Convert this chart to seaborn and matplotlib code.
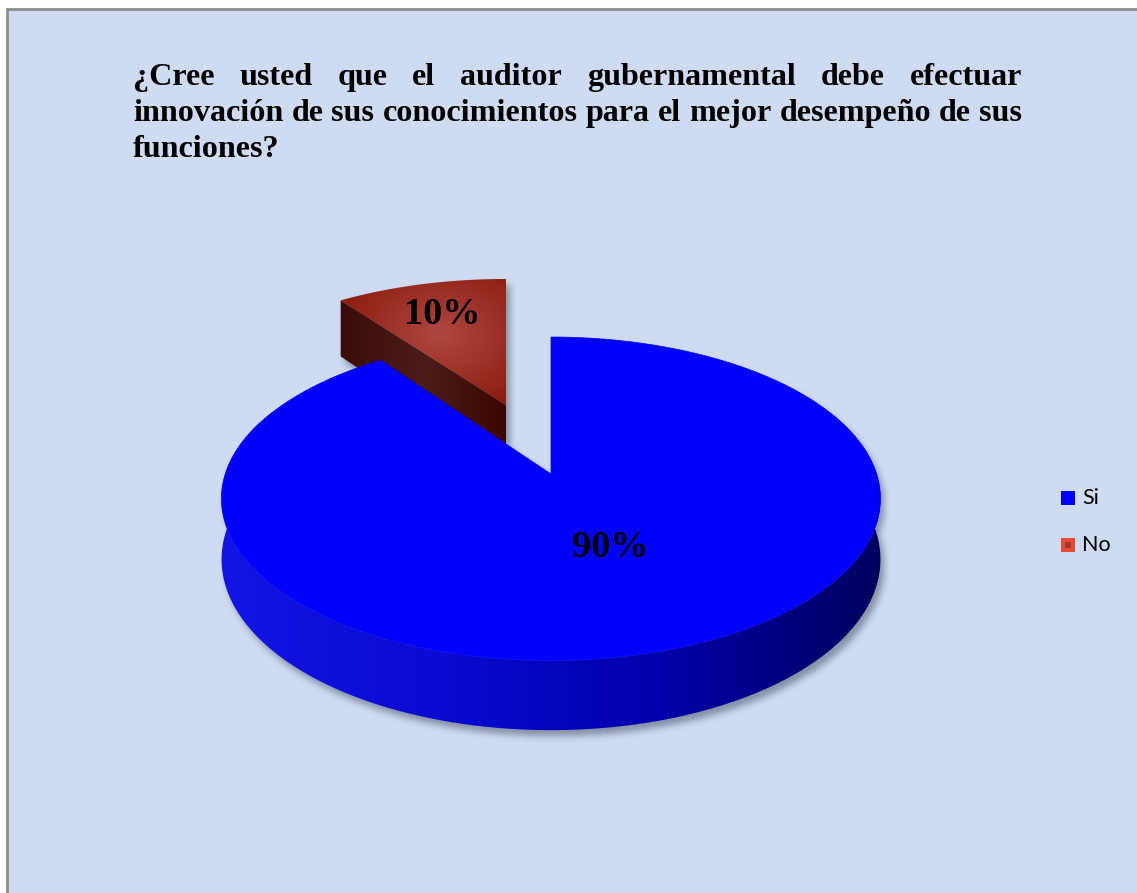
import numpy as np
import matplotlib
matplotlib.use("Agg")
import matplotlib.pyplot as plt
import seaborn as sns
from matplotlib.patches import Polygon, Rectangle
from matplotlib.path import Path

# ---- data -------------------------------------------------------------
categories = ["Si", "No"]
values = [90, 10]
pct_labels = ["90%", "10%"]
title_lines = [
    "¿Cree usted que el auditor gubernamental debe efectuar",
    "innovación de sus conocimientos para el mejor desempeño de sus",
    "funciones?",
]

# ---- style ------------------------------------------------------------
sns.set_theme(style="white")
plt.rcParams["font.family"] = ["Liberation Serif", "DejaVu Serif"]

W, H = 1137, 893
fig = plt.figure(figsize=(W / 100, H / 100), dpi=100)
fig.patch.set_facecolor("white")
ax = fig.add_axes([0, 0, 1, 1])
ax.set_xlim(0, W)
ax.set_ylim(H, 0)
ax.axis("off")

BG = "#CEDBF1"
ax.add_patch(Rectangle((6.5, 8.5), W + 20, H + 20, facecolor=BG,
                       edgecolor="#8C8C8C", lw=2, zorder=0))

# ---- 3D pie geometry (screen pixels) ---------------------------------
CX, CY = 551.0, 474.0
RX, RY = 325.6, 157.8
PERSP = 0.152
DEPTH = 59.4
EXPLODE_APEX = np.array([506.0, 405.0])
EXPLODE_SCALE = np.array([0.97, 0.92])
EXPLODE_DEPTH = 1.15


def project(u, v, bottom=False, depth=DEPTH):
    s = 1.0 + PERSP * v
    x = CX + RX * u / s
    y = CY - RY * v / s + (depth / s if bottom else 0.0)
    return np.column_stack([np.atleast_1d(x), np.atleast_1d(y)])


def arc(a0, a1, n=200, r=1.0, bottom=False):
    t = np.radians(np.linspace(a0, a1, n))
    return project(r * np.cos(t), r * np.sin(t), bottom)


def explode(pts):
    return EXPLODE_APEX + EXPLODE_SCALE * (pts - np.array([CX, CY]))


# slice angles, clockwise from 12 o'clock
fracs = np.array(values, dtype=float) / np.sum(values)
spans = []
a = 90.0
for f in fracs:
    spans.append((a - 360.0 * f, a))
    a -= 360.0 * f

(si0, si1), (no0, no1) = spans
apex_top = project(0.0, 0.0)

# "Si" slice faces
si_top = np.vstack([apex_top, arc(si0, si1, 400)])
side_a0, side_a1 = max(si0, -205.0), min(si1, 25.0)
si_side = np.vstack([arc(side_a0, side_a1, 300),
                     arc(side_a0, side_a1, 300, bottom=True)[::-1]])

# "No" slice faces (pulled out of the pie); its leading cut face is visible
no_top = explode(np.vstack([apex_top, arc(no0, no1, 80)]))
cut = np.radians(no1)
no_depth = DEPTH * EXPLODE_DEPTH
edge_top = project(np.cos(cut), np.sin(cut))
edge_bot = project(np.cos(cut), np.sin(cut), bottom=True, depth=no_depth)
apex_bot = project(0.0, 0.0, bottom=True, depth=no_depth)
no_side = explode(np.vstack([apex_top, edge_top, edge_bot, apex_bot]))

# ---- soft drop shadow ------------------------------------------------
xs = np.arange(W) + 0.5
ys = np.arange(H) + 0.5
GX, GY = np.meshgrid(xs, ys)
grid = np.column_stack([GX.ravel(), GY.ravel()])
mask = np.zeros(W * H, dtype=float)
shift = np.array([4.0, 6.0])
for poly in (si_top, si_side, no_top, no_side):
    mask = np.maximum(mask, Path(poly + shift).contains_points(grid).astype(float))
mask = mask.reshape(H, W)


def blur(img, sigma):
    r = int(3 * sigma)
    k = np.exp(-0.5 * (np.arange(-r, r + 1) / sigma) ** 2)
    k /= k.sum()
    p = np.pad(img, ((0, 0), (r, r)))
    out = np.zeros_like(img)
    for i, w in enumerate(k):
        out += w * p[:, i:i + img.shape[1]]
    p = np.pad(out, ((r, r), (0, 0)))
    out2 = np.zeros_like(img)
    for i, w in enumerate(k):
        out2 += w * p[i:i + img.shape[0], :]
    return out2


shadow = blur(mask, 3.5)
sh = np.zeros((H, W, 4))
sh[..., 0], sh[..., 1], sh[..., 2] = 0.33, 0.37, 0.45
sh[..., 3] = 0.6 * shadow
ax.imshow(sh, extent=(0, W, H, 0), origin="upper", aspect="auto", zorder=1)


def gradient_fill(poly, rgb_img, z):
    patch = Polygon(poly, closed=True, facecolor="none", edgecolor="none", zorder=z)
    ax.add_patch(patch)
    x0, y0 = poly.min(axis=0) - 2
    x1, y1 = poly.max(axis=0) + 2
    im = ax.imshow(rgb_img, extent=(x0, x1, y1, y0), origin="upper",
                   aspect="auto", zorder=z, interpolation="bilinear")
    im.set_clip_path(patch)


# ---- "No" slice -------------------------------------------------------
side_pal = np.array(sns.blend_palette(["#3A0C08", "#4C1C18", "#3A0600"], n_colors=256))
gradient_fill(no_side, side_pal[None, :, :], 2)

x0, y0 = no_top.min(axis=0) - 2
x1, y1 = no_top.max(axis=0) + 2
gx, gy = np.meshgrid(np.linspace(x0, x1, 200), np.linspace(y0, y1, 160))
hx, hy = 440.0, 335.0
d = np.clip(np.hypot((gx - hx) / 110.0, (gy - hy) / 80.0), 0, 1)[..., None]
c_in = np.array(matplotlib.colors.to_rgb("#AE4840"))
c_out = np.array(matplotlib.colors.to_rgb("#8C1C10"))
top_img = c_in * (1 - d) + c_out * d
gradient_fill(no_top, top_img, 3)

# ---- "Si" slice -------------------------------------------------------
blue_side_pal = np.array(sns.blend_palette(["#1414E4", "#0A0AD2", "#0000AA", "#00005E"],
                                           n_colors=256))
gradient_fill(si_side, blue_side_pal[None, :, :], 4)
front = arc(-200, -20, 200)
ax.plot(front[:, 0], front[:, 1], color="#3A3AFF", lw=1.0, alpha=0.6, zorder=4.5)
ax.add_patch(Polygon(si_top, closed=True, facecolor="#0000FF",
                     edgecolor="#0000FF", lw=0.5, zorder=5))

# ---- percentage labels -----------------------------------------------
lab_font = dict(fontsize=27.5, fontweight="bold", color="black",
                family=["Liberation Serif", "DejaVu Serif"])
mid_si = np.radians((si0 + si1) / 2)
p_si = project(0.46 * np.cos(mid_si), 0.46 * np.sin(mid_si))[0]
ax.text(p_si[0] + 10, p_si[1], pct_labels[0], ha="center", va="center", zorder=6, **lab_font)
mid_no = np.radians((no0 + no1) / 2)
p_no = explode(project(0.72 * np.cos(mid_no), 0.72 * np.sin(mid_no)))[0]
ax.text(p_no[0], p_no[1], pct_labels[1], ha="center", va="center", zorder=6, **lab_font)

# ---- legend -----------------------------------------------------------
leg_font = dict(fontsize=15.5, color="black", family=["Lato", "DejaVu Sans"], va="center")
ax.add_patch(Rectangle((1061, 491), 14, 14, facecolor="#0000FF", edgecolor="none", zorder=6))
ax.text(1082, 498, categories[0], zorder=6, **leg_font)
ax.add_patch(Rectangle((1061, 538), 14, 14, facecolor="#E84A35", edgecolor="none", zorder=6))
ax.add_patch(Rectangle((1065, 542), 6, 6, facecolor="#A0382C", edgecolor="none", zorder=6.5))
ax.text(1082, 545, categories[1], zorder=6, **leg_font)

# ---- justified title --------------------------------------------------
TX0, TX1 = 133.0, 1022.0
baselines = [85.0, 121.0, 157.0]
fig.canvas.draw()
renderer = fig.canvas.get_renderer()


def width_of(s, size):
    t = ax.text(0, 0, s, fontsize=size, fontweight="bold")
    w = t.get_window_extent(renderer).width
    t.remove()
    return w


size = 20.0
size *= (TX1 - TX0) / width_of(title_lines[1], size)

for i, line in enumerate(title_lines):
    words = line.split(" ")
    if i < len(title_lines) - 1 and len(words) > 1:
        widths = [width_of(w_, size) for w_ in words]
        gap = (TX1 - TX0 - sum(widths)) / (len(words) - 1)
        x = TX0
        for w_, wd in zip(words, widths):
            ax.text(x, baselines[i], w_, fontsize=size, fontweight="bold",
                    ha="left", va="baseline", color="black", zorder=6)
            x += wd + gap
    else:
        ax.text(TX0, baselines[i], line, fontsize=size, fontweight="bold",
                ha="left", va="baseline", color="black", zorder=6)

ax.set_xlim(0, W)
ax.set_ylim(H, 0)
fig.savefig("out.png", dpi=100, facecolor="white")
